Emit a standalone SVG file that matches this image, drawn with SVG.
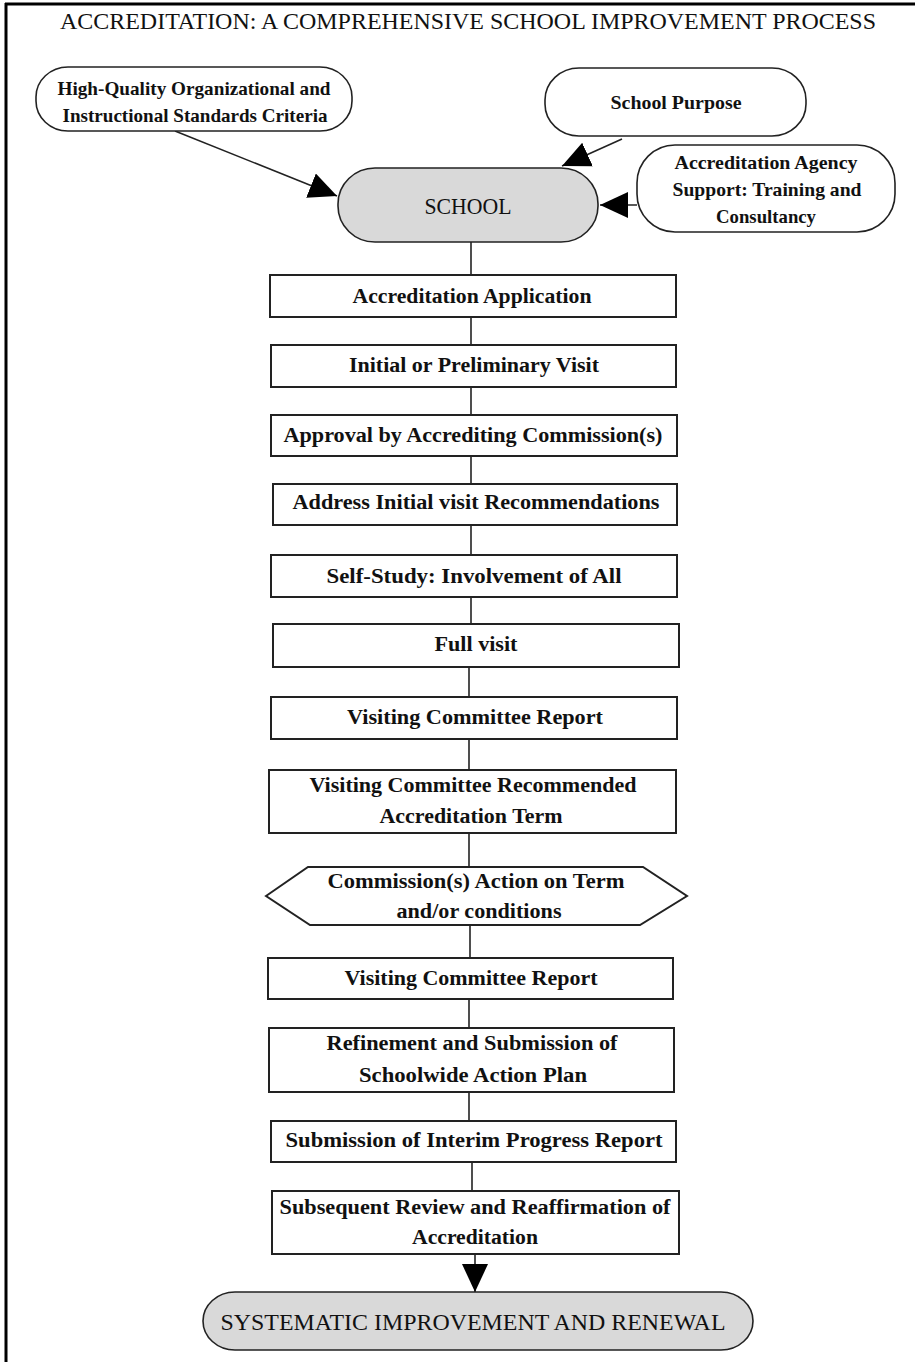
<svg xmlns="http://www.w3.org/2000/svg" width="915" height="1362" viewBox="0 0 915 1362">
<style>
text{font-family:"Liberation Serif","DejaVu Serif",serif;fill:#111;text-anchor:middle}
.t{font-size:20px;font-weight:bold}
.s{font-size:19px;font-weight:bold}
.h{font-size:23px}
.box{fill:#fff;stroke:#222;stroke-width:2}
.oval{fill:#fff;stroke:#222;stroke-width:1.6}
.grey{fill:#d9d9d9;stroke:#222;stroke-width:1.6}
.ln{stroke:#222;stroke-width:1.6;fill:none}
</style>
<defs>
<marker id="ah" markerUnits="userSpaceOnUse" markerWidth="30" markerHeight="28" refX="28" refY="13" orient="auto">
<path d="M0,0 L28,13 L0,26 Z" fill="#000"/>
</marker>
</defs>
<rect width="915" height="1362" fill="#fff"/>
<g id="frame">
<line x1="5" y1="4" x2="915" y2="4" stroke="#000" stroke-width="3"/>
<line x1="6" y1="3" x2="6" y2="1362" stroke="#000" stroke-width="3"/>
</g>
<text id="title" class="h" x="468" y="29" textLength="816" lengthAdjust="spacingAndGlyphs">ACCREDITATION: A COMPREHENSIVE SCHOOL IMPROVEMENT PROCESS</text>
<g id="connectors">
<line class="ln" x1="175" y1="131" x2="337" y2="196" marker-end="url(#ah)"/>
<line class="ln" x1="622" y1="139" x2="562" y2="166" marker-end="url(#ah)"/>
<line class="ln" x1="637" y1="205" x2="600" y2="205" marker-end="url(#ah)"/>
<line class="ln" x1="471" y1="242" x2="471" y2="275"/>
<line class="ln" x1="471" y1="317" x2="471" y2="345"/>
<line class="ln" x1="471" y1="387" x2="471" y2="415"/>
<line class="ln" x1="471" y1="456" x2="471" y2="484"/>
<line class="ln" x1="471" y1="525" x2="471" y2="555"/>
<line class="ln" x1="471" y1="597" x2="471" y2="624"/>
<line class="ln" x1="469" y1="667" x2="469" y2="697"/>
<line class="ln" x1="469" y1="739" x2="469" y2="770"/>
<line class="ln" x1="469" y1="833" x2="469" y2="867"/>
<line class="ln" x1="470" y1="925" x2="470" y2="958"/>
<line class="ln" x1="469" y1="999" x2="469" y2="1028"/>
<line class="ln" x1="469" y1="1092" x2="469" y2="1121"/>
<line class="ln" x1="472" y1="1162" x2="472" y2="1191"/>
<line class="ln" x1="475" y1="1254" x2="475" y2="1292" marker-end="url(#ah)"/>
</g>
<g id="n_standards">
<rect class="oval" x="36" y="67" width="316" height="64" rx="32" ry="30"/>
<text class="s" x="194" y="95" textLength="273" lengthAdjust="spacingAndGlyphs">High-Quality Organizational and</text>
<text class="s" x="195" y="122" textLength="265" lengthAdjust="spacingAndGlyphs">Instructional Standards Criteria</text>
</g>
<g id="n_purpose">
<rect class="oval" x="545" y="68" width="261" height="68" rx="34" ry="32"/>
<text class="s" x="676" y="109" textLength="131" lengthAdjust="spacingAndGlyphs">School Purpose</text>
</g>
<g id="n_agency">
<rect class="oval" x="637" y="145" width="258" height="87" rx="38" ry="38"/>
<text class="s" x="766" y="169" textLength="183" lengthAdjust="spacingAndGlyphs">Accreditation Agency</text>
<text class="s" x="767" y="196" textLength="189" lengthAdjust="spacingAndGlyphs">Support: Training and</text>
<text class="s" x="766" y="223" textLength="100" lengthAdjust="spacingAndGlyphs">Consultancy</text>
</g>
<g id="n_school">
<rect class="grey" x="338" y="168" width="260" height="74" rx="37" ry="36"/>
<text class="h" x="468" y="214" textLength="87" lengthAdjust="spacingAndGlyphs">SCHOOL</text>
</g>
<g id="n1"><rect class="box" x="270" y="275" width="406" height="42"/>
<text class="t" x="472" y="303" textLength="239" lengthAdjust="spacingAndGlyphs">Accreditation Application</text></g>
<g id="n2"><rect class="box" x="271" y="345" width="405" height="42"/>
<text class="t" x="474" y="372" textLength="250" lengthAdjust="spacingAndGlyphs">Initial or Preliminary Visit</text></g>
<g id="n3"><rect class="box" x="271" y="415" width="406" height="41"/>
<text class="t" x="473" y="442" textLength="379" lengthAdjust="spacingAndGlyphs">Approval by Accrediting Commission(s)</text></g>
<g id="n4"><rect class="box" x="273" y="484" width="404" height="41"/>
<text class="t" x="476" y="509" textLength="367" lengthAdjust="spacingAndGlyphs">Address Initial visit Recommendations</text></g>
<g id="n5"><rect class="box" x="271" y="555" width="406" height="42"/>
<text class="t" x="474" y="583" textLength="295" lengthAdjust="spacingAndGlyphs">Self-Study: Involvement of All</text></g>
<g id="n6"><rect class="box" x="273" y="624" width="406" height="43"/>
<text class="t" x="476" y="651" textLength="83" lengthAdjust="spacingAndGlyphs">Full visit</text></g>
<g id="n7"><rect class="box" x="271" y="697" width="406" height="42"/>
<text class="t" x="475" y="724" textLength="256" lengthAdjust="spacingAndGlyphs">Visiting Committee Report</text></g>
<g id="n8"><rect class="box" x="269" y="770" width="407" height="63"/>
<text class="t" x="473" y="792" textLength="327" lengthAdjust="spacingAndGlyphs">Visiting Committee Recommended</text>
<text class="t" x="471" y="823" textLength="183" lengthAdjust="spacingAndGlyphs">Accreditation Term</text></g>
<g id="n9"><polygon class="box" points="266,896 308,867 643,867 687,896 640,925 310,925"/>
<text class="t" x="476" y="888" textLength="297" lengthAdjust="spacingAndGlyphs">Commission(s) Action on Term</text>
<text class="t" x="479" y="918" textLength="165" lengthAdjust="spacingAndGlyphs">and/or conditions</text></g>
<g id="n10"><rect class="box" x="268" y="958" width="405" height="41"/>
<text class="t" x="471" y="985" textLength="253" lengthAdjust="spacingAndGlyphs">Visiting Committee Report</text></g>
<g id="n11"><rect class="box" x="269" y="1028" width="405" height="64"/>
<text class="t" x="472" y="1050" textLength="291" lengthAdjust="spacingAndGlyphs">Refinement and Submission of</text>
<text class="t" x="473" y="1082" textLength="228" lengthAdjust="spacingAndGlyphs">Schoolwide Action Plan</text></g>
<g id="n12"><rect class="box" x="271" y="1121" width="405" height="41"/>
<text class="t" x="474" y="1147" textLength="377" lengthAdjust="spacingAndGlyphs">Submission of Interim Progress Report</text></g>
<g id="n13"><rect class="box" x="272" y="1191" width="407" height="63"/>
<text class="t" x="475" y="1214" textLength="391" lengthAdjust="spacingAndGlyphs">Subsequent Review and Reaffirmation of</text>
<text class="t" x="475" y="1244" textLength="126" lengthAdjust="spacingAndGlyphs">Accreditation</text></g>
<g id="n_final">
<rect class="grey" x="203" y="1292" width="550" height="58" rx="32" ry="29"/>
<text class="h" x="473" y="1330" textLength="505" lengthAdjust="spacingAndGlyphs">SYSTEMATIC IMPROVEMENT AND RENEWAL</text>
</g>
</svg>
